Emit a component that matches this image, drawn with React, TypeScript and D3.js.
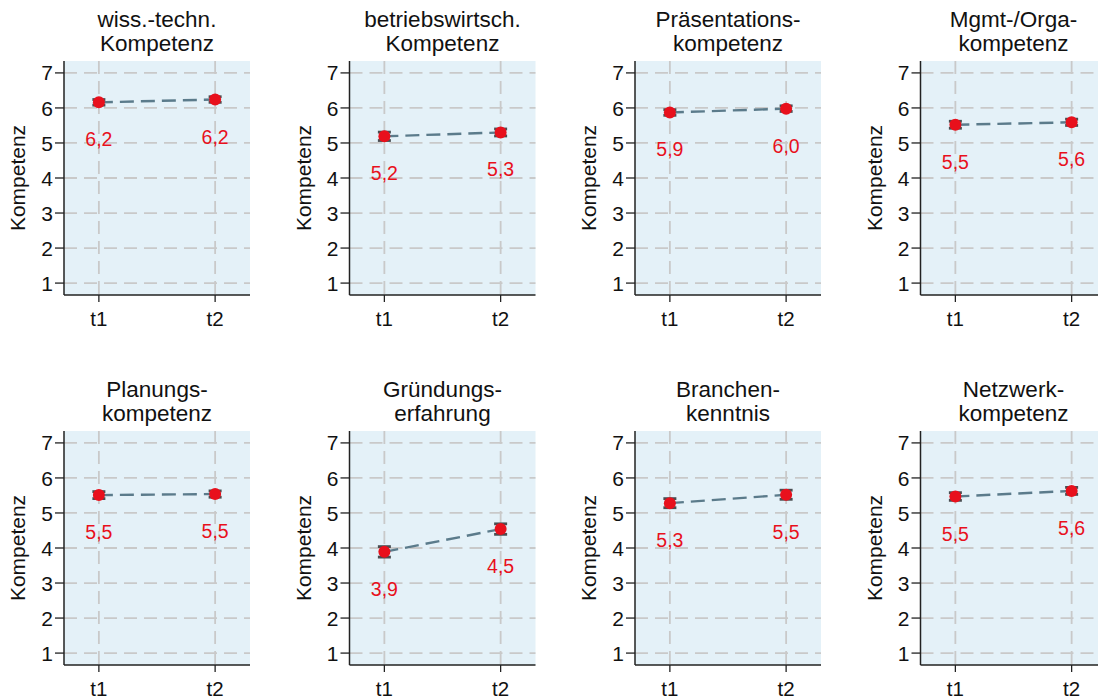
import * as d3 from 'd3';

const W = 1098;
const H = 699;

// panel titles (two lines each)
const titleLine1 = ['wiss.-techn.', 'betriebswirtsch.', 'Präsentations-', 'Mgmt-/Orga-', 'Planungs-', 'Gründungs-', 'Branchen-', 'Netzwerk-'];
const titleLine2 = ['Kompetenz', 'Kompetenz', 'kompetenz', 'kompetenz', 'kompetenz', 'erfahrung', 'kenntnis', 'kompetenz'];

// means and CI half widths
const meanT1 = [6.16, 5.19, 5.87, 5.52, 5.51, 3.89, 5.28, 5.47];
const meanT2 = [6.24, 5.30, 5.98, 5.59, 5.54, 4.54, 5.52, 5.63];
const ciT1 = [0.08, 0.12, 0.08, 0.10, 0.10, 0.15, 0.13, 0.11];
const ciT2 = [0.08, 0.10, 0.08, 0.09, 0.09, 0.15, 0.13, 0.10];

const xCats = ['t1', 't2'];
const yTicks = [1, 2, 3, 4, 5, 6, 7];

const FONT = '"Liberation Sans", Arial, sans-serif';
const fmt = (v: number) => v.toFixed(1).replace('.', ',');

const PW = 186;
const PH = 234;
const LEFT0 = 64;
const TOP0 = 61;
const COL_STEP = 285.5;
const ROW_STEP = 370;

const x = d3.scaleLinear().domain([0.7, 2.3]).range([0, PW]);
const y = d3.scaleLinear().domain([0.66, 7.34]).range([PH, 0]);

function Panel({ i }: { i: number }) {
  const col = i % 4;
  const row = Math.floor(i / 4);
  const left = LEFT0 + col * COL_STEP;
  const top = TOP0 + row * ROW_STEP;
  const means = [meanT1[i], meanT2[i]];
  const cis = [ciT1[i], ciT2[i]];
  const line = d3.line<number>().x((_, k) => x(k + 1)).y(d => y(d));

  return (
    <g transform={`translate(${left},${top})`}>
      {/* title */}
      <text x={PW / 2} y={-34} textAnchor="middle" fontSize={22.5} fill="#111">{titleLine1[i]}</text>
      <text x={PW / 2} y={-10} textAnchor="middle" fontSize={22.5} fill="#111">{titleLine2[i]}</text>

      {/* plot region */}
      <rect x={0} y={0} width={PW} height={PH} fill="#e4f1f8" />

      {/* grid */}
      {yTicks.map(t => (
        <line key={'gy' + t} x1={0} x2={PW} y1={y(t)} y2={y(t)}
          stroke="#c9c9c9" strokeWidth={1.8} strokeDasharray="13,7" />
      ))}
      {xCats.map((_, k) => (
        <line key={'gx' + k} x1={x(k + 1)} x2={x(k + 1)} y1={0} y2={PH}
          stroke="#c9c9c9" strokeWidth={1.8} strokeDasharray="13,7" />
      ))}

      {/* axes */}
      <line x1={0} x2={0} y1={0} y2={PH} stroke="#222" strokeWidth={1.5} />
      <line x1={0} x2={PW} y1={PH} y2={PH} stroke="#222" strokeWidth={1.5} />
      {yTicks.map(t => (
        <g key={'ty' + t}>
          <line x1={-9} x2={0} y1={y(t)} y2={y(t)} stroke="#222" strokeWidth={1.3} />
          <text x={-11} y={y(t)} dy="0.36em" textAnchor="end" fontSize={21} fill="#111">{t}</text>
        </g>
      ))}
      {xCats.map((c, k) => (
        <g key={'tx' + c}>
          <line x1={x(k + 1)} x2={x(k + 1)} y1={PH} y2={PH + 7} stroke="#222" strokeWidth={1.3} />
          <text x={x(k + 1)} y={PH + 31} textAnchor="middle" fontSize={20.5} fill="#111">{c}</text>
        </g>
      ))}
      <text transform={`translate(${-39},${PH / 2}) rotate(-90)`} textAnchor="middle" fontSize={21} fill="#111">Kompetenz</text>

      {/* connecting line */}
      <path d={line(means) ?? ''} fill="none" stroke="#5b7b8b" strokeWidth={2.4} strokeDasharray="14,7" />

      {/* error bars */}
      {means.map((m, k) => {
        const cx = x(k + 1);
        return (
          <g key={'e' + k} stroke="#4a4e52" strokeWidth={2.8}>
            <line x1={cx} x2={cx} y1={y(m - cis[k])} y2={y(m + cis[k])} />
            <line x1={cx - 6.5} x2={cx + 6.5} y1={y(m - cis[k])} y2={y(m - cis[k])} />
            <line x1={cx - 6.5} x2={cx + 6.5} y1={y(m + cis[k])} y2={y(m + cis[k])} />
          </g>
        );
      })}

      {/* points and labels */}
      {means.map((m, k) => (
        <g key={'p' + k}>
          <circle cx={x(k + 1)} cy={y(m)} r={6} fill="#e8101c" />
          <text x={x(k + 1)} y={y(m) + 44} textAnchor="middle" fontSize={19.5} fill="#e8101c">{fmt(m)}</text>
        </g>
      ))}
    </g>
  );
}

export default function App() {
  return (
    <svg width={W} height={H} fontFamily={FONT}
      style={{ position: 'absolute', left: 0, top: 0, background: '#fff' }}>
      <rect width={W} height={H} fill="#fff" />
      {titleLine1.map((_, i) => <Panel key={i} i={i} />)}
    </svg>
  );
}
